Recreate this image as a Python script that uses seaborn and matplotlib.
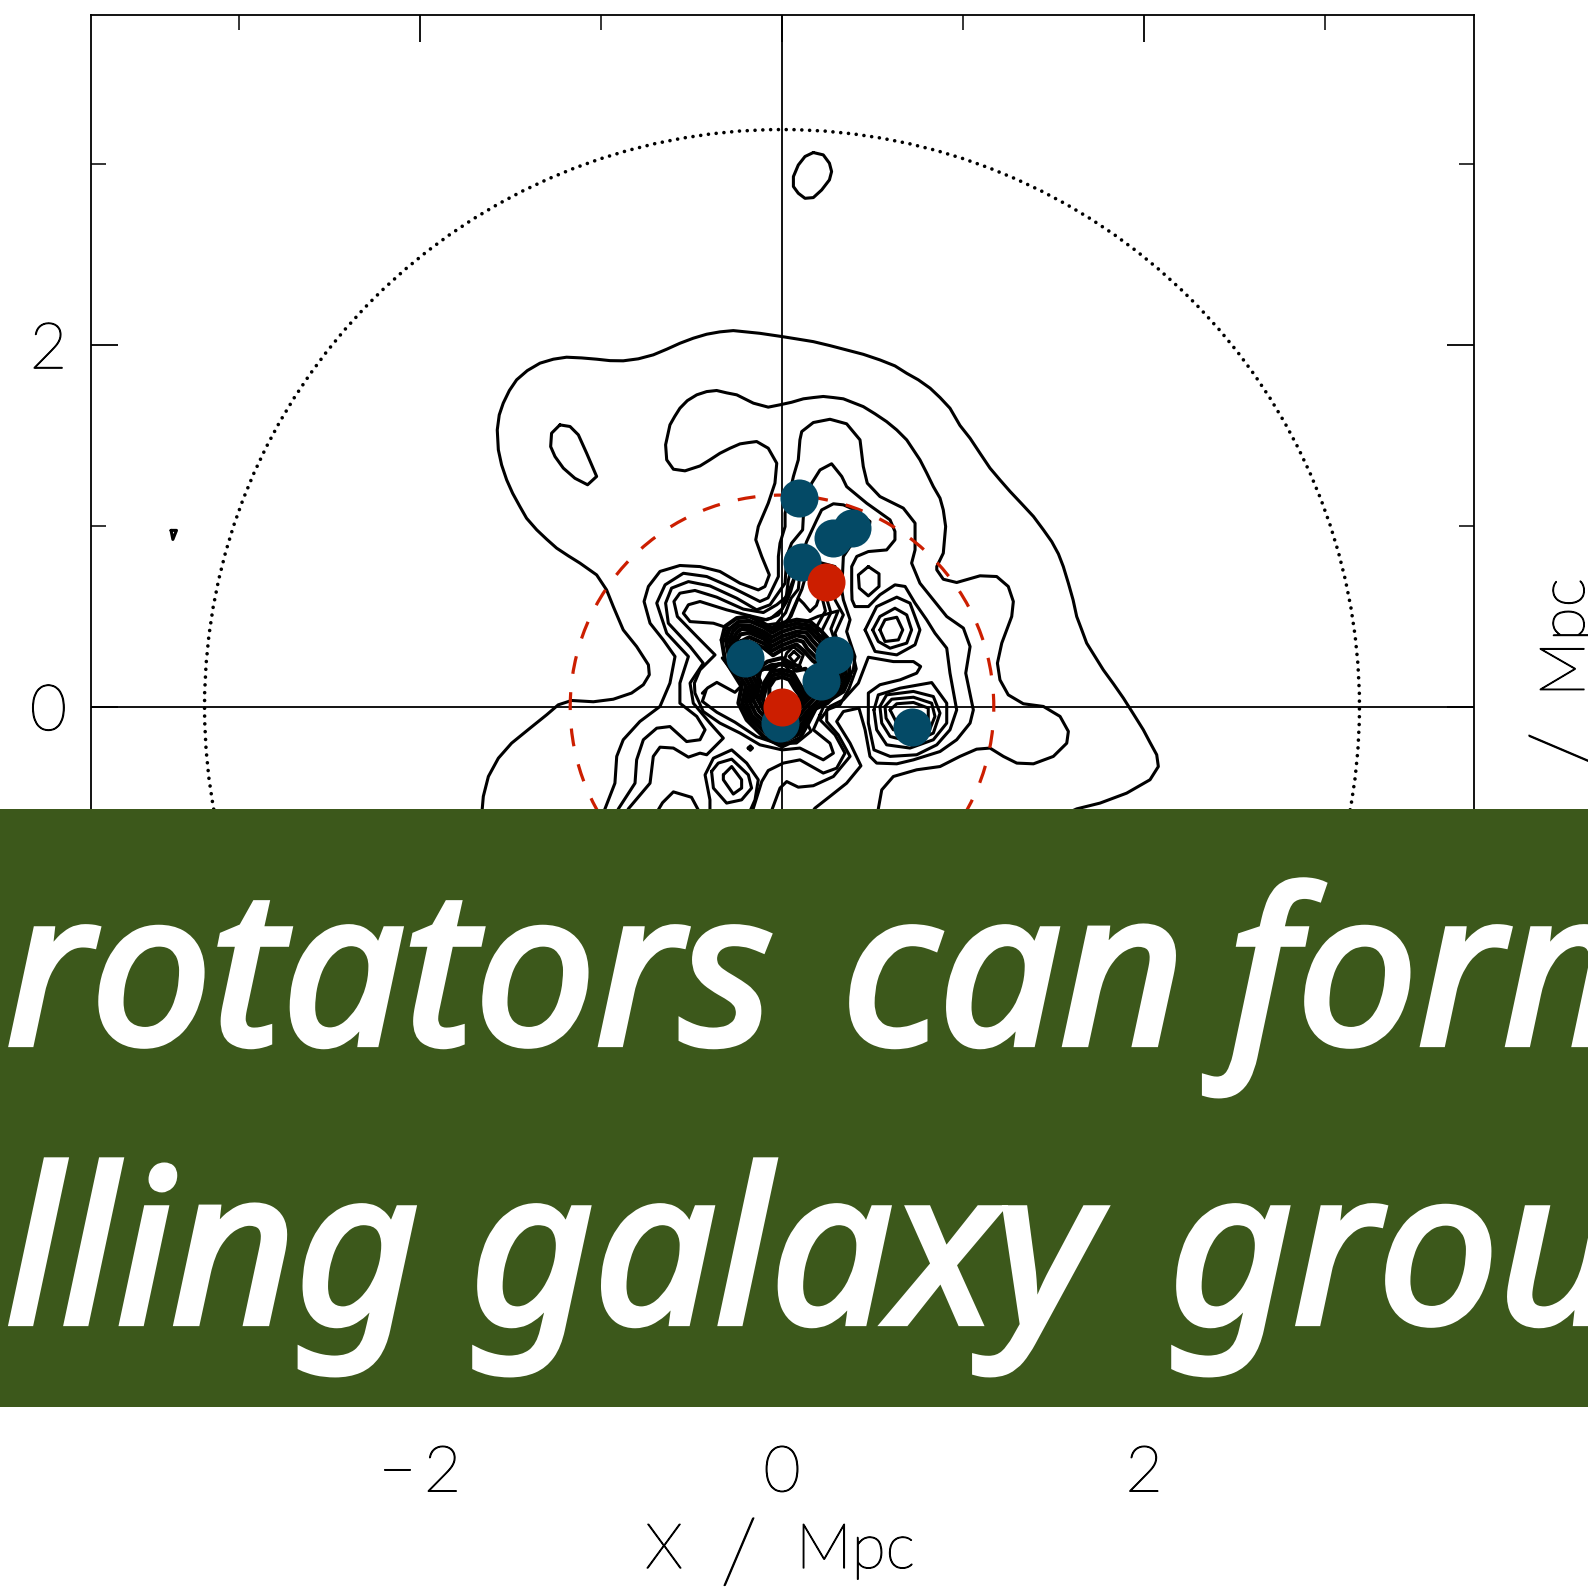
import matplotlib
matplotlib.use("Agg")
import matplotlib.pyplot as plt
import matplotlib.patheffects as pe
from matplotlib.patches import Circle, Rectangle
import pandas as pd
import seaborn as sns

# contours, all in Mpc
outer_a = [(-1.659,-0.606),(-1.656,-0.564),(-1.65,-0.495),(-1.622,-0.385),(-1.567,-0.284),(-1.494,-0.201),(-1.392,-0.118),(-1.3,-0.044),(-1.236,0.011),(-1.162,0.035),(-1.042,0.028),(-0.932,0.042),(-0.831,0.076),(-0.766,0.122),(-0.733,0.177),(-0.738,0.232),(-0.803,0.333),(-0.877,0.425),(-0.932,0.554),(-0.969,0.646),(-1.006,0.702),(-1.024,0.729),(-1.116,0.794),(-1.18,0.834),(-1.245,0.877),(-1.3,0.926),(-1.355,0.978),(-1.411,1.042),(-1.448,1.107),(-1.488,1.18),(-1.521,1.254),(-1.549,1.337),(-1.567,1.42),(-1.573,1.53),(-1.562,1.613),(-1.54,1.678),(-1.506,1.748),(-1.466,1.807),(-1.407,1.858),(-1.337,1.899),(-1.263,1.921),(-1.19,1.932),(-1.107,1.928),(-1.024,1.921),(-0.95,1.913),(-0.877,1.912),(-0.794,1.923),(-0.711,1.945),(-0.637,1.976),(-0.564,2.009),(-0.49,2.037),(-0.416,2.059),(-0.343,2.072),(-0.269,2.079),(-0.122,2.064),(0,2.046),(0.081,2.033),(0.173,2.018),(0.265,1.996),(0.357,1.972),(0.449,1.948),(0.541,1.917),(0.624,1.884),(0.689,1.843),(0.753,1.807),(0.818,1.761),(0.873,1.709),(0.928,1.65),(0.983,1.555),(1.039,1.484),(1.094,1.401),(1.149,1.319),(1.204,1.254),(1.26,1.19),(1.324,1.122),(1.389,1.052),(1.444,0.978),(1.49,0.913),(1.527,0.845),(1.554,0.775),(1.582,0.683),(1.608,0.591),(1.628,0.499),(1.656,0.425),(1.683,0.352),(1.729,0.278),(1.775,0.204),(1.831,0.127),(1.886,0.048),(1.941,-0.039),(1.996,-0.127),(2.033,-0.197),(2.07,-0.265),(2.079,-0.33),(2.033,-0.403),(1.904,-0.477),(1.757,-0.532),(1.628,-0.564),(1.535,-0.606)]
outer_b = [(0.527,-0.624),(0.532,-0.564),(0.551,-0.459),(0.615,-0.385),(0.744,-0.348),(0.873,-0.33),(0.983,-0.274),(1.075,-0.234),(1.149,-0.228),(1.223,-0.274),(1.297,-0.311),(1.389,-0.315),(1.499,-0.274),(1.573,-0.201),(1.582,-0.136),(1.536,-0.053),(1.444,0.002),(1.333,0.017),(1.25,0.066),(1.204,0.149),(1.19,0.241),(1.214,0.352),(1.269,0.499),(1.278,0.582),(1.25,0.665),(1.186,0.72),(1.094,0.724),(0.965,0.687),(0.891,0.705),(0.855,0.757),(0.855,0.775),(0.891,0.849),(0.904,0.996),(0.891,1.088),(0.873,1.153),(0.836,1.217),(0.799,1.293),(0.762,1.365),(0.689,1.475),(0.634,1.53),(0.578,1.576),(0.514,1.619),(0.449,1.659),(0.339,1.702),(0.284,1.709),(0.228,1.715),(0.173,1.709),(0.118,1.702),(0.053,1.683),(-0.011,1.669),(-0.076,1.656),(-0.158,1.678),(-0.25,1.724),(-0.306,1.735),(-0.361,1.748),(-0.416,1.742),(-0.471,1.724),(-0.523,1.692),(-0.564,1.65),(-0.593,1.604),(-0.619,1.558),(-0.643,1.448),(-0.637,1.365),(-0.6,1.313),(-0.536,1.304),(-0.453,1.331),(-0.398,1.365),(-0.343,1.401),(-0.287,1.429),(-0.232,1.453),(-0.186,1.46),(-0.14,1.466),(-0.076,1.429),(-0.029,1.346),(-0.039,1.236),(-0.076,1.125),(-0.131,0.996),(-0.145,0.923),(-0.112,0.831),(-0.07,0.729),(-0.094,0.665),(-0.131,0.646),(-0.232,0.683),(-0.343,0.748),(-0.453,0.775),(-0.564,0.781),(-0.674,0.748),(-0.738,0.665),(-0.762,0.582),(-0.729,0.462),(-0.656,0.37),(-0.591,0.278),(-0.619,0.131),(-0.674,0.002),(-0.785,-0.081),(-0.877,-0.182),(-0.913,-0.274),(-0.923,-0.422),(-0.978,-0.564),(-1.005,-0.624)]
level_c = [(-0.932,-0.624),(-0.904,-0.564),(-0.812,-0.422),(-0.803,-0.293),(-0.766,-0.182),(-0.692,-0.118),(-0.619,-0.109),(-0.527,-0.192),(-0.453,-0.182),(-0.425,-0.127),(-0.471,-0.053),(-0.564,0.02),(-0.564,0.131),(-0.517,0.278),(-0.637,0.407),(-0.692,0.573),(-0.646,0.674),(-0.545,0.738),(-0.416,0.72),(-0.269,0.656),(-0.122,0.582),(-0.077,0.602),(-0.02,0.72),(-0.02,0.831),(-0.011,0.904),(0.017,0.996),(0.017,1.07),(0.063,1.273),(0.09,1.365),(0.099,1.475),(0.109,1.521),(0.173,1.571),(0.265,1.589),(0.357,1.564),(0.431,1.475),(0.449,1.328),(0.471,1.236),(0.541,1.162),(0.67,1.098),(0.735,1.015),(0.735,0.867),(0.716,0.794),(0.762,0.683),(0.91,0.499),(1.002,0.435),(1.039,0.333),(1.015,0.186),(1.057,-0.017),(1.039,-0.09),(0.965,-0.182),(0.873,-0.247),(0.726,-0.293),(0.634,-0.315),(0.523,-0.311),(0.486,-0.274),(0.459,-0.127),(0.425,-0.007),(0.339,-0.026),(0.302,-0.081),(0.376,-0.201),(0.436,-0.326),(0.357,-0.422),(0.265,-0.495),(0.182,-0.56),(0.136,-0.624)]
level_d = [(-0.877,-0.624),(-0.849,-0.564),(-0.729,-0.422),(-0.711,-0.274),(-0.674,-0.223),(-0.6,-0.228),(-0.517,-0.278),(-0.453,-0.256),(-0.416,-0.265),(-0.324,-0.173),(-0.398,-0.09),(-0.49,0.02),(-0.508,0.131),(-0.435,0.241),(-0.508,0.333),(-0.628,0.462),(-0.643,0.573),(-0.61,0.656),(-0.517,0.692),(-0.398,0.668),(-0.25,0.6),(-0.14,0.536),(-0.066,0.564),(0.017,0.683),(0.026,0.831),(0.053,0.904),(0.114,0.978),(0.118,1.052),(0.145,1.162),(0.164,1.236),(0.21,1.309),(0.274,1.343),(0.33,1.273),(0.357,1.217),(0.468,1.125),(0.597,1.033),(0.624,0.969),(0.624,0.923),(0.578,0.867),(0.477,0.858),(0.413,0.831),(0.385,0.775),(0.385,0.646),(0.387,0.591),(0.403,0.554),(0.477,0.554),(0.541,0.619),(0.624,0.674),(0.68,0.665),(0.735,0.573),(0.799,0.481),(0.845,0.407),(0.91,0.324),(0.928,0.186),(0.965,-0.017),(0.928,-0.127),(0.855,-0.21),(0.744,-0.265),(0.597,-0.274),(0.508,-0.238),(0.477,-0.09),(0.477,0.076),(0.541,0.122),(0.652,0.149),(0.744,0.186),(0.766,0.223),(0.726,0.25),(0.615,0.25),(0.477,0.274),(0.422,0.131),(0.339,0.039),(0.265,0.002),(0.21,-0.072),(0.293,-0.155),(0.348,-0.256),(0.302,-0.339),(0.228,-0.366),(0.099,-0.293),(0.007,-0.311),(-0.076,-0.352),(-0.112,-0.413),(-0.158,-0.56),(-0.17,-0.62)]
level_e = [(0.21,-0.044),(0.173,-0.127),(0.265,-0.201),(0.284,-0.256),(0.228,-0.293),(0.099,-0.228),(0,-0.238),(-0.122,-0.21),(-0.232,-0.145),(-0.343,-0.09),(-0.435,-0.026),(-0.481,0.076),(-0.484,0.131),(-0.453,0.204),(-0.37,0.287),(-0.471,0.389),(-0.578,0.499),(-0.597,0.582),(-0.564,0.628),(-0.481,0.643),(-0.361,0.606),(-0.214,0.54),(-0.103,0.521),(-0.029,0.564),(0.026,0.61),(0.081,0.748),(0.136,0.913),(0.192,1.033),(0.219,1.088),(0.284,1.122),(0.339,1.116),(0.403,1.088),(0.486,1.024),(0.477,0.959),(0.376,0.886),(0.339,0.831),(0.33,0.646),(0.339,0.591),(0.376,0.481),(0.357,0.416),(0.403,0.278),(0.394,0.204),(0.339,0.112),(0.238,0.02),(0.21,-0.044)]
level_f = [(-0.315,0.389),(-0.297,0.435),(-0.379,0.462),(-0.508,0.471),(-0.545,0.517),(-0.517,0.564),(-0.453,0.582),(-0.306,0.536),(-0.177,0.503),(-0.085,0.481),(-0.02,0.508),(0.026,0.582),(0.048,0.637),(0.072,0.72),(0.12,0.8),(0.2,0.8),(0.293,0.775),(0.293,0.646),(0.293,0.591),(0.339,0.508),(0.293,0.407),(0.33,0.278),(0.3,0.23)]
finger_g = [(-0.44,0.075),(-0.41,0.105),(-0.36,0.135),(-0.26,0.08),(-0.22,0.12),(-0.27,0.19),(-0.33,0.27)]
finger_h = [(-0.42,0.09),(-0.44,0.03),(-0.36,-0.03),(-0.26,-0.085),(-0.14,-0.165),(-0.02,-0.205),(0.08,-0.2),(0.16,-0.135),(0.125,-0.06),(0.16,0)]
lower_l2 = [(-0.066,-0.597),(-0.011,-0.449),(0.026,-0.413),(0.09,-0.444),(0.173,-0.436),(0.284,-0.385),(0.376,-0.274),(0.311,-0.155),(0.247,-0.081),(0.247,-0.017),(0.32,0.011),(0.37,0.1),(0.41,0.21),(0.39,0.3)]
funnel_1 = [(-0.1,0.45),(-0.03,0.46),(0.02,0.52),(0.05,0.6),(0.09,0.65),(0.1,0.75),(0.17,0.82),(0.24,0.75),(0.24,0.62),(0.27,0.52),(0.22,0.42),(0.24,0.34)]
funnel_2 = [(-0.05,0.43),(0.03,0.47),(0.07,0.56),(0.11,0.65),(0.13,0.72),(0.19,0.76),(0.21,0.65),(0.24,0.53),(0.19,0.44),(0.21,0.35)]
funnel_3 = [(0,0.45),(0.05,0.5),(0.09,0.6),(0.12,0.57),(0.155,0.527),(0.19,0.56),(0.21,0.62)]
funnel_4 = [(-0.14,0.47),(-0.06,0.49),(0,0.54),(0.025,0.62),(0.035,0.7),(0.06,0.8),(0.16,0.84)]
funnel_5 = [(0.13,0.47),(0.2,0.5),(0.31,0.53),(0.27,0.43),(0.31,0.31)]
dense_0 = [(-0.333,0.37),(-0.315,0.444),(-0.25,0.49),(-0.177,0.499),(-0.103,0.462),(-0.057,0.435),(-0.002,0.462),(0.081,0.481),(0.155,0.471),(0.219,0.416),(0.284,0.343),(0.366,0.26),(0.376,0.168),(0.339,0.085),(0.265,0.039),(0.192,0.002),(0.145,-0.09),(0.099,-0.173),(0,-0.219),(-0.103,-0.164),(-0.195,-0.072),(-0.241,0.02),(-0.223,0.112),(-0.269,0.186),(-0.315,0.26),(-0.333,0.37)]
dense_1 = [(-0.31,0.37),(-0.29,0.43),(-0.24,0.47),(-0.18,0.475),(-0.1,0.44),(-0.055,0.41),(0,0.44),(0.08,0.46),(0.15,0.45),(0.2,0.4),(0.27,0.33),(0.345,0.25),(0.355,0.17),(0.32,0.09),(0.25,0.02),(0.175,-0.015),(0.125,-0.095),(0.085,-0.155),(0,-0.195),(-0.09,-0.145),(-0.18,-0.06),(-0.22,0.02),(-0.2,0.115),(-0.245,0.19),(-0.29,0.26),(-0.31,0.37)]
dense_2 = [(-0.29,0.37),(-0.27,0.42),(-0.235,0.45),(-0.18,0.45),(-0.1,0.415),(-0.055,0.385),(0,0.415),(0.08,0.44),(0.145,0.43),(0.185,0.385),(0.25,0.32),(0.325,0.245),(0.335,0.17),(0.3,0.1),(0.235,0.04),(0.16,-0.03),(0.105,-0.1),(0.07,-0.14),(0,-0.17),(-0.08,-0.125),(-0.165,-0.05),(-0.2,0.025),(-0.18,0.12),(-0.225,0.2),(-0.27,0.26),(-0.29,0.37)]
dense_3 = [(-0.27,0.37),(-0.25,0.41),(-0.225,0.43),(-0.18,0.43),(-0.1,0.395),(-0.055,0.36),(0,0.39),(0.08,0.415),(0.135,0.41),(0.17,0.365),(0.23,0.3),(0.305,0.235),(0.315,0.17),(0.28,0.11),(0.22,0.055),(0.145,-0.02),(0.09,-0.085),(0.055,-0.125),(0,-0.145),(-0.07,-0.105),(-0.145,-0.04),(-0.18,0.03),(-0.16,0.125),(-0.205,0.21),(-0.25,0.27),(-0.27,0.37)]
dense_4 = [(-0.25,0.37),(-0.23,0.4),(-0.18,0.41),(-0.1,0.375),(-0.055,0.335),(0,0.365),(0.08,0.395),(0.125,0.385),(0.155,0.345),(0.21,0.285),(0.285,0.225),(0.295,0.17),(0.26,0.12),(0.2,0.07),(0.13,-0.005),(0.075,-0.07),(0.04,-0.105),(0,-0.12),(-0.06,-0.085),(-0.125,-0.025),(-0.16,0.04),(-0.14,0.13),(-0.185,0.22),(-0.23,0.28),(-0.25,0.37)]
dense_5 = [(-0.23,0.36),(-0.18,0.385),(-0.1,0.35),(-0.055,0.31),(0,0.34),(0.08,0.37),(0.115,0.36),(0.14,0.32),(0.19,0.27),(0.265,0.215),(0.275,0.17),(0.24,0.13),(0.18,0.08),(0.115,0.01),(0.06,-0.05),(0.03,-0.085),(0,-0.095),(-0.05,-0.065),(-0.105,-0.01),(-0.14,0.05),(-0.12,0.14),(-0.165,0.23),(-0.21,0.29),(-0.23,0.36)]
upper_1 = [(-0.205,0.33),(-0.18,0.36),(-0.1,0.325),(-0.05,0.285),(0,0.315),(0.08,0.345),(0.12,0.31),(0.17,0.255),(0.24,0.205),(0.25,0.165),(0.21,0.14),(0.16,0.16),(0.13,0.21),(0.08,0.2),(0.03,0.24),(-0.02,0.235),(-0.05,0.21),(-0.12,0.21),(-0.16,0.26),(-0.205,0.33)]
lower_1 = [(-0.09,-0.035),(-0.125,0.03),(-0.1,0.13),(-0.06,0.195),(0,0.205),(0.06,0.19),(0.1,0.12),(0.14,0.06),(0.1,0),(0.045,-0.04),(0.02,-0.07),(0,-0.075),(-0.04,-0.06),(-0.09,-0.035)]
lower_2 = [(-0.08,-0.015),(-0.105,0.04),(-0.085,0.12),(-0.05,0.175),(0,0.185),(0.05,0.17),(0.085,0.11),(0.12,0.06),(0.085,0.01),(0.035,-0.03),(0,-0.055),(-0.03,-0.04),(-0.08,-0.015)]
lower_3 = [(-0.07,0.05),(-0.07,0.11),(-0.04,0.155),(0,0.165),(0.04,0.15),(0.07,0.1),(0.1,0.06),(0.06,0.02),(0,-0.03),(-0.05,0),(-0.07,0.05)]
lower_4 = [(-0.17,0.03),(-0.14,0.12),(-0.12,0.2),(-0.06,0.23),(0,0.235),(0.05,0.22)]
bridge_1 = [(-0.15,0.2),(-0.08,0.25),(0,0.27),(0.05,0.24),(0.1,0.22)]
peak_ring = [(0.063,0.333),(0.118,0.287),(0.09,0.214),(0.053,0.186),(0.007,0.241),(0.026,0.297),(0.063,0.333)]
peak_diamond = [(0.066,0.306),(0.096,0.278),(0.066,0.245),(0.039,0.278),(0.066,0.306)]
right_1 = [(0.459,0.425),(0.523,0.554),(0.634,0.606),(0.707,0.573),(0.762,0.425),(0.735,0.343),(0.634,0.287),(0.514,0.306),(0.459,0.425)]
right_2 = [(0.501,0.425),(0.541,0.499),(0.624,0.545),(0.689,0.508),(0.716,0.425),(0.689,0.352),(0.597,0.324),(0.532,0.361),(0.501,0.425)]
right_3 = [(0.541,0.425),(0.569,0.481),(0.634,0.495),(0.667,0.425),(0.643,0.37),(0.569,0.361),(0.541,0.425)]
small_loop = [(0.477,0.775),(0.536,0.735),(0.536,0.665),(0.477,0.613),(0.427,0.656),(0.422,0.729),(0.477,0.775)]
peak_k1 = [(0.508,-0.017),(0.532,0.066),(0.652,0.103),(0.827,0.134),(0.91,0.02),(0.91,-0.09),(0.836,-0.182),(0.707,-0.228),(0.578,-0.21),(0.523,-0.127),(0.508,-0.017)]
peak_k2 = [(0.541,0.002),(0.578,0.066),(0.726,0.085),(0.836,0.057),(0.873,-0.035),(0.836,-0.145),(0.726,-0.197),(0.597,-0.164),(0.551,-0.09),(0.541,0.002)]
peak_k3 = [(0.569,0.002),(0.606,0.042),(0.726,0.053),(0.827,0.02),(0.845,-0.053),(0.808,-0.145),(0.615,-0.127),(0.575,-0.063),(0.569,0.002)]
peak_k4 = [(0.597,-0.017),(0.634,0.017),(0.726,0.024),(0.808,-0.007),(0.808,-0.109),(0.634,-0.09),(0.597,-0.017)]
low_q1 = [(-0.398,-0.597),(-0.398,-0.514),(-0.425,-0.376),(-0.379,-0.284),(-0.278,-0.238),(-0.195,-0.311),(-0.131,-0.403),(-0.149,-0.514),(-0.186,-0.597)]
low_q2 = [(-0.389,-0.357),(-0.352,-0.311),(-0.278,-0.289),(-0.186,-0.376),(-0.168,-0.449),(-0.223,-0.514),(-0.306,-0.532),(-0.379,-0.449),(-0.389,-0.357)]
low_q3 = [(-0.324,-0.376),(-0.278,-0.33),(-0.223,-0.403),(-0.223,-0.449),(-0.269,-0.482),(-0.324,-0.403),(-0.324,-0.376)]
low_left = [(-0.72,-0.63),(-0.66,-0.53),(-0.6,-0.47),(-0.5,-0.5),(-0.43,-0.63)]
top_loop = [(0.173,3.063),(0.228,3.05),(0.262,3.004),(0.274,2.958),(0.262,2.912),(0.219,2.856),(0.173,2.814),(0.127,2.81),(0.09,2.838),(0.063,2.875),(0.063,2.93),(0.09,2.994),(0.127,3.041),(0.173,3.063)]
left_loop = [(-1.227,1.558),(-1.171,1.549),(-1.125,1.503),(-1.079,1.401),(-1.024,1.273),(-1.074,1.227),(-1.144,1.263),(-1.208,1.319),(-1.254,1.383),(-1.278,1.438),(-1.273,1.512),(-1.227,1.558)]
far_wedge = [(-3.375,0.975),(-3.345,0.975),(-3.365,0.925),(-3.375,0.975)]
tiny_dot = [(-0.187,-0.228),(-0.175,-0.216),(-0.163,-0.228),(-0.175,-0.24),(-0.187,-0.228)]

contours = [outer_a, outer_b, level_c, level_d, level_e, level_f, finger_g, finger_h, lower_l2,
            funnel_1, funnel_2, funnel_3, funnel_4, funnel_5, peak_ring, peak_diamond, right_1, right_2, right_3,
            small_loop, peak_k1, peak_k2, peak_k3, peak_k4, low_q1, low_q2, low_q3, low_left,
            top_loop, left_loop, far_wedge, tiny_dot]
# the core where the lines run into each other
dense_contours = [dense_0, dense_1, dense_2, dense_3, dense_4, dense_5, upper_1,
                  lower_1, lower_2, lower_3, lower_4, bridge_1]

blue_x = [0.094, 0.282, 0.387, 0.11, -0.204, 0.287, 0.215, -0.011, 0.718]
blue_y = [1.155, 0.934, 0.989, 0.801, 0.271, 0.287, 0.144, -0.088, -0.11]
red_x = [0.243, 0]
red_y = [0.691, 0]
dotted_radius = 3.19
dashed_radius = 1.17

x_major = [-2, 0, 2]
x_minor = [-3, -1, 1, 3]
y_major = [-2, 0, 2]
y_minor = [-3, -1, 1, 3]
banner_line_1 = ["rotators", "can", "form"]
banner_line_2 = ["lling", "galaxy", "grou"]
banner_starts_1 = [6, 842, 1229]
banner_starts_2 = [6, 470, 1169]


def to_frame(lines):
    rows = []
    for i, line in enumerate(lines):
        for px, py in line:
            rows.append({"contour": i, "x": px, "y": py})
    return pd.DataFrame(rows)


sns.set_theme(style="white")
plt.rcParams['font.family'] = ['Lato', 'DejaVu Sans']

fig = plt.figure(figsize=(15.88, 15.89), dpi=100)
ax = fig.add_axes([90.5 / 1588, 1 - 1399 / 1589, 1383 / 1588, 1384 / 1589])

sns.lineplot(data=to_frame(contours), x="x", y="y", units="contour", estimator=None, sort=False,
             color="black", linewidth=2.2, solid_joinstyle="round", ax=ax, legend=False, zorder=2)
sns.lineplot(data=to_frame(dense_contours), x="x", y="y", units="contour", estimator=None, sort=False,
             color="black", linewidth=3.0, solid_joinstyle="round", ax=ax, legend=False, zorder=2)

ax.axhline(0, color="black", lw=1.3, zorder=1)
ax.axvline(0, color="black", lw=1.3, zorder=1)

ax.add_patch(Circle((0, 0), dotted_radius, fill=False, ec="black", lw=2.6,
                    linestyle=(0, (0.01, 2.15)), capstyle="round", zorder=3))
ax.add_patch(Circle((0, 0), dashed_radius, fill=False, ec="#CC1E00", lw=2.3,
                    linestyle=(0, (5.6, 5.8)), capstyle="butt", zorder=3))

sns.scatterplot(x=blue_x, y=blue_y, color="#044A66", s=750, linewidth=0, ax=ax, zorder=4)
sns.scatterplot(x=red_x, y=red_y, color="#CC1E00", s=750, linewidth=0, ax=ax, zorder=5)

ax.set_xlim(-3.82, 3.82)
ax.set_ylim(-3.825, 3.823)
ax.set_xlabel("")
ax.set_ylabel("")
ax.set_xticks(x_major)
ax.set_xticks(x_minor, minor=True)
ax.set_yticks(y_major)
ax.set_yticks(y_minor, minor=True)
ax.set_xticklabels(["\u2212\u20092", "0", "2"])
ax.tick_params(which="major", direction="in", length=19.5, width=1.3, top=True, right=True,
               bottom=True, left=True, labelsize=46, colors="black")
ax.tick_params(which="minor", direction="in", length=11, width=1.3, top=True, right=True,
               bottom=True, left=True)
ax.tick_params(axis="x", which="major", pad=33)
ax.tick_params(axis="y", which="major", pad=17)

# thin face with a hairline stroke, the light cut of Lato is too heavy
thin_stroke = [pe.withStroke(linewidth=0.9, foreground="black")]
for lab in ax.get_xticklabels() + ax.get_yticklabels():
    lab.set_fontweight("light")
    lab.set_path_effects(thin_stroke)
for lab in ax.get_yticklabels():
    lab.set_verticalalignment("center_baseline")
for spine in ax.spines.values():
    spine.set_linewidth(1.3)
    spine.set_color("black")

# axis names, the slash is much larger than the letters in the reference
name_style = dict(color="black", fontweight="light", path_effects=thin_stroke)
fig.text(664 / 1588, 1 - 1568 / 1589, "X", ha="center", va="baseline", fontsize=45, **name_style)
fig.text(739 / 1588, 1 - 1582 / 1589, "/", ha="center", va="baseline", fontsize=64, **name_style)
fig.text(796 / 1588, 1 - 1568 / 1589, "Mpc", ha="left", va="baseline", fontsize=45, **name_style)
fig.text(1584 / 1588, 1 - 829 / 1589, "Y", ha="center", va="baseline", rotation=90,
         rotation_mode="anchor", fontsize=45, **name_style)
fig.text(1593 / 1588, 1 - 750 / 1589, "/", ha="center", va="baseline", rotation=90,
         rotation_mode="anchor", fontsize=64, **name_style)
fig.text(1584 / 1588, 1 - 697 / 1589, "Mpc", ha="left", va="baseline", rotation=90,
         rotation_mode="anchor", fontsize=45, **name_style)

# banner over the middle of the plot
fig.add_artist(Rectangle((0, 1 - 1407 / 1589), 1, 598 / 1589, transform=fig.transFigure,
                         facecolor="#3C581B", edgecolor="none", zorder=10))
banner_stroke = [pe.withStroke(linewidth=4.5, foreground="white", joinstyle="miter")]
for word, start in zip(banner_line_1, banner_starts_1):
    fig.text(start / 1588, 1 - 1044 / 1589, word, ha="left", va="baseline", color="white", fontsize=154,
             family=["Noto Sans", "DejaVu Sans"], style="italic", path_effects=banner_stroke, zorder=11)
for word, start in zip(banner_line_2, banner_starts_2):
    fig.text(start / 1588, 1 - 1323 / 1589, word, ha="left", va="baseline", color="white", fontsize=154,
             family=["Noto Sans", "DejaVu Sans"], style="italic", path_effects=banner_stroke, zorder=11)

fig.savefig("out.png", dpi=100)
